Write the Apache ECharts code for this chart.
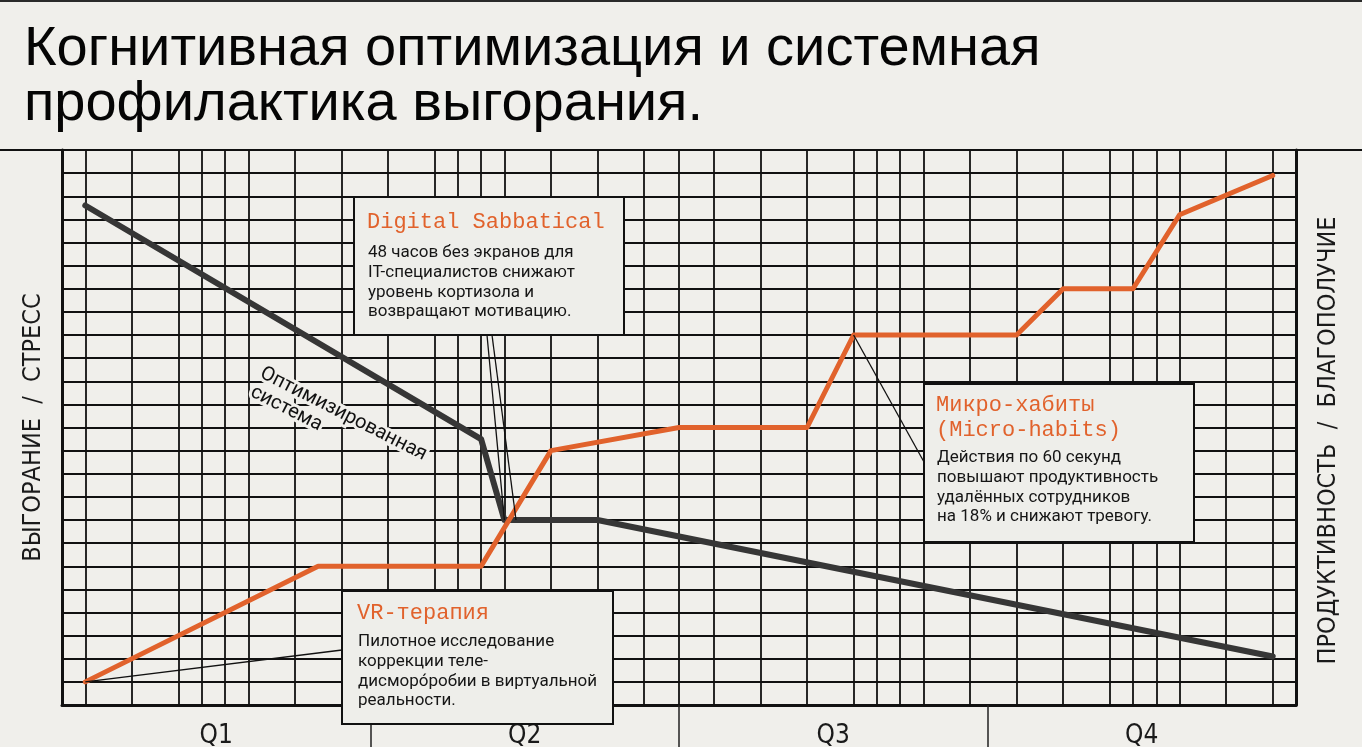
<!DOCTYPE html>
<html><head><meta charset="utf-8">
<script src="https://cdn.jsdelivr.net/npm/echarts@6/dist/echarts.min.js"></script>
<style>html,body{margin:0;padding:0;background:#f0efeb}#c{width:1362px;height:747px}</style>
</head><body><div id="c"></div>
<script>
// ---- data ----
const quarters = ['Q1', 'Q2', 'Q3', 'Q4'];
const quarterBounds = [13.25, 26.5, 39.75];
const quarterCenters = [6.625, 19.875, 33.125, 46.375];
const gridX = [1, 3, 5, 6, 7, 8, 10, 12, 14, 16, 17, 18, 19, 21, 23, 25, 26.5, 28, 30, 32, 34, 35, 36, 37, 39, 41, 43, 45, 46, 47, 48, 50, 52];
const burnoutX = [1, 18, 19, 23, 52];
const burnoutY = [21.6, 11.5, 8, 8, 2.1];
const wellbeingX = [1, 11, 18, 21, 26.5, 32, 34, 41, 43, 46, 48, 52];
const wellbeingY = [1, 6, 6, 11, 12, 12, 16, 16, 18, 18, 21.2, 22.9];

const BG = '#f0efeb';
const INK = '#111111';
const ORANGE = '#e1622c';
const DARK = '#363636';
const NARROW = "'Liberation Sans Narrow','DejaVu Sans Condensed','Roboto Condensed','Liberation Sans',sans-serif";
const MONO = "'Liberation Mono','DejaVu Sans Mono',monospace";
const BODY = "Roboto,'Noto Sans','Liberation Sans',sans-serif";

const chart = echarts.init(document.getElementById('c'), null, {renderer: 'canvas'});

const option = {
  backgroundColor: BG,
  animation: false,
  title: {
    text: 'Когнитивная оптимизация и системная\nпрофилактика выгорания.',
    left: 19, top: 17,
    textStyle: {fontFamily: "'Liberation Sans',Arial,sans-serif", fontSize: 56, fontWeight: 'normal', color: '#050505', lineHeight: 55}
  },
  grid: {left: 62, right: 66, top: 150, bottom: 42, containLabel: false, outerBoundsMode: 'none'},
  xAxis: {
    type: 'value', min: 0, max: 53,
    axisLine: {show: true, lineStyle: {color: INK, width: 3}},
    splitLine: {show: false},
    axisTick: {show: true, customValues: quarterBounds, length: 44, lineStyle: {color: '#222', width: 1.5}},
    axisLabel: {
      show: true, customValues: quarterCenters, margin: 18,
      formatter: v => quarters[quarterCenters.indexOf(v)] || '',
      fontFamily: NARROW, fontSize: 26, color: '#1a1a1a'
    }
  },
  yAxis: [{
    type: 'value', min: 0, max: 24, interval: 1,
    axisLine: {show: true, lineStyle: {color: INK, width: 3}},
    axisTick: {show: false}, axisLabel: {show: false},
    splitLine: {show: true, lineStyle: {color: INK, width: 1.8}},
    name: 'ВЫГОРАНИЕ  /  СТРЕСС', nameLocation: 'middle', nameRotate: 90, nameGap: 16,
    nameTextStyle: {fontFamily: NARROW, fontSize: 25, color: '#1a1a1a'}
  }, {
    type: 'value', min: 0, max: 24, interval: 1, position: 'right',
    axisLine: {show: true, lineStyle: {color: INK, width: 3}},
    axisTick: {show: false}, axisLabel: {show: false}, splitLine: {show: false},
    name: 'ПРОДУКТИВНОСТЬ  /  БЛАГОПОЛУЧИЕ', nameLocation: 'middle', nameRotate: 90, nameGap: 20,
    nameTextStyle: {fontFamily: NARROW, fontSize: 25, color: '#1a1a1a', padding: [0, 26, 0, 0]}
  }],
  series: [{
    name: 'grid', type: 'line', data: [], silent: true,
    markLine: {
      silent: true, symbol: 'none', label: {show: false},
      lineStyle: {color: INK, width: 1.8, type: 'solid'},
      data: gridX.map(v => ({xAxis: v}))
    }
  }, {
    name: 'Выгорание', type: 'line', symbol: 'none', z: 5,
    data: burnoutX.map((x, i) => [x, burnoutY[i]]),
    lineStyle: {color: DARK, width: 6, cap: 'round', join: 'round'}
  }, {
    name: 'Благополучие', type: 'line', symbol: 'none', z: 6,
    data: wellbeingX.map((x, i) => [x, wellbeingY[i]]),
    lineStyle: {color: ORANGE, width: 5, cap: 'round', join: 'round'}
  }]
};
chart.setOption(option);

const P = (x, y) => chart.convertToPixel({xAxisIndex: 0, yAxisIndex: 0}, [x, y]);
const topY = P(0, 24)[1];

function box(x, y, w, h, titleLines, titleY, bodyLines, bodyY, tx) {
  const els = [{
    type: 'rect', shape: {x, y, width: w, height: h},
    style: {fill: '#eeeeea', stroke: '#111', lineWidth: 2}, z: 20
  }];
  titleLines.forEach((t, i) => els.push({
    type: 'text', z: 21,
    style: {text: t, x: tx, y: titleY + i * 25, fill: ORANGE, font: "22px " + MONO, verticalAlign: 'middle', align: 'left'}
  }));
  bodyLines.forEach((t, i) => els.push({
    type: 'text', z: 21,
    style: {text: t, x: tx + 1, y: bodyY + i * 19.7, fill: '#161616', font: "17px " + BODY, verticalAlign: 'middle', align: 'left'}
  }));
  return els;
}
function leader(a, b) {
  return {type: 'line', z: 19, shape: {x1: a[0], y1: a[1], x2: b[0], y2: b[1]}, style: {stroke: '#111', lineWidth: 1.3}};
}

const g = [];
g.push({type: 'rect', shape: {x: 0, y: 0, width: 1362, height: 2}, style: {fill: '#2a2a2a'}, z: 30});
g.push({type: 'line', shape: {x1: 0, y1: topY, x2: 1362, y2: topY}, style: {stroke: INK, lineWidth: 2}, z: 10});
// leader lines
g.push(leader([487, 335], P(19, 8)));
g.push(leader([492, 335], P(19.5, 8)));
g.push(leader([924, 462], P(34, 16)));
g.push(leader([342, 650], P(1, 1)));
// boxes
g.push(...box(354, 197, 270, 138, ['Digital Sabbatical'], 222,
  ['48 часов без экранов для', 'IT-специалистов снижают', 'уровень кортизола и', 'возвращают мотивацию.'], 253, 367));
g.push(...box(924, 384, 270, 158, ['Микро-хабиты', '(Micro-habits)'], 405,
  ['Действия по 60 секунд', 'повышают продуктивность', 'удалённых сотрудников', 'на 18% и снижают тревогу.'], 458, 936));
g.push(...box(342, 591, 271, 133, ['VR-терапия'], 613,
  ['Пилотное исследование', 'коррекции теле-', 'дисморо\u0301робии в виртуальной', 'реальности.'], 642, 357));
// rotated series label
g.push({
  type: 'text', x: 266, y: 363, rotation: -0.47, z: 15,
  style: {text: 'Оптимизированная\nсистема', x: 0, y: 0, align: 'left', verticalAlign: 'top',
    font: "20px " + BODY, fill: '#111', lineHeight: 21, stroke: BG, lineWidth: 6}
});
chart.setOption({graphic: {elements: g}});
</script>
</body></html>
